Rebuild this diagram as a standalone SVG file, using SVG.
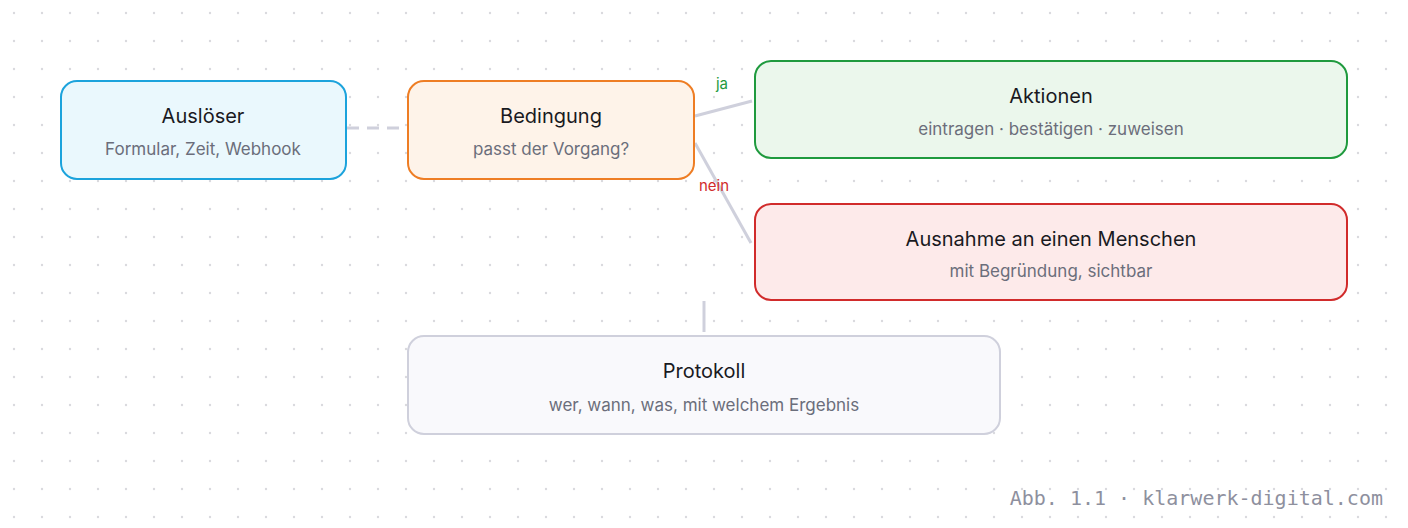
<svg xmlns="http://www.w3.org/2000/svg" width="1408" height="528" viewBox="0 0 1408 528">
<defs>
<pattern id="dots" x="0" y="0" width="28" height="28" patternUnits="userSpaceOnUse"><circle cx="14" cy="13" r="1.2" fill="#d9d9de"/></pattern>
<style>
.t{font-family:Inter,"Liberation Sans",sans-serif;font-size:20px;fill:#1a1a1f;text-anchor:middle}
.s{font-family:Inter,"Liberation Sans",sans-serif;font-size:17px;fill:#6b6e7b;text-anchor:middle}
.c{stroke:#cfd0dc;stroke-width:3;fill:none}
.l{font-family:Inter,"Liberation Sans",sans-serif;font-size:15px}
</style>
</defs>
<rect width="1408" height="528" fill="#fff"/>
<rect width="1408" height="528" fill="url(#dots)"/>
<g id="connectors">
<line class="c" x1="347" y1="128" x2="407" y2="128" stroke-dasharray="12,8"/>
<line class="c" x1="695" y1="116" x2="752" y2="101"/>
<line class="c" x1="695" y1="143" x2="751" y2="243"/>
<line class="c" x1="704" y1="301" x2="704" y2="332"/>
<text class="l" x="722" y="89" fill="#1f9a3e" text-anchor="middle">ja</text>
<text class="l" x="714" y="191" fill="#d12b2b" text-anchor="middle">nein</text>
</g>
<g id="ausloeser"><rect x="61" y="81" width="285" height="98" rx="16" fill="#eaf8fd" stroke="#1ca3dc" stroke-width="2"/>
<text class="t" x="203" y="123">Auslöser</text><text class="s" x="203" y="155">Formular, Zeit, Webhook</text></g>
<g id="bedingung"><rect x="408" y="81" width="286" height="98" rx="16" fill="#fef3e9" stroke="#ee7d24" stroke-width="2"/>
<text class="t" x="551" y="123">Bedingung</text><text class="s" x="551" y="155">passt der Vorgang?</text></g>
<g id="aktionen"><rect x="755" y="61" width="592" height="97" rx="16" fill="#ebf7ec" stroke="#1f9a3e" stroke-width="2"/>
<text class="t" x="1051" y="103">Aktionen</text><text class="s" x="1051" y="135">eintragen · bestätigen · zuweisen</text></g>
<g id="ausnahme"><rect x="755" y="204" width="592" height="96" rx="16" fill="#fdeaea" stroke="#d12b2b" stroke-width="2"/>
<text class="t" x="1051" y="246">Ausnahme an einen Menschen</text><text class="s" x="1051" y="277">mit Begründung, sichtbar</text></g>
<g id="protokoll"><rect x="408" y="336" width="592" height="98" rx="16" fill="#f9f9fc" stroke="#cfd0dc" stroke-width="2"/>
<text class="t" x="704" y="378">Protokoll</text><text class="s" x="704" y="411">wer, wann, was, mit welchem Ergebnis</text></g>
<text x="1383" y="505" font-family="'DejaVu Sans Mono','Liberation Mono',monospace" font-size="20" fill="#8e909e" text-anchor="end">Abb. 1.1 · klarwerk-digital.com</text>
</svg>
